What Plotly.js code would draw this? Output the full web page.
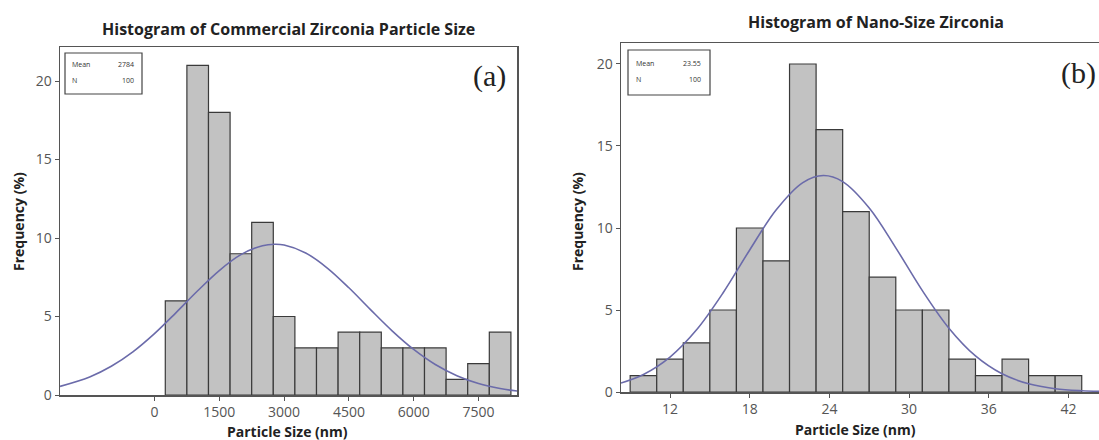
<!DOCTYPE html>
<html>
<head>
<meta charset="utf-8">
<script src="https://cdn.plot.ly/plotly-3.0.1.min.js"></script>
<style>html,body{margin:0;padding:0;background:#fff;}#chart{width:1099px;height:440px;}</style>
</head>
<body>
<div id="chart"></div>
<script>
// ---- Panel (a): commercial zirconia ----
const aBinCenters = [500, 1000, 1500, 2000, 2500, 3000, 3500, 4000, 4500, 5000, 5500, 6000, 6500, 7000, 7500, 8000];
const aCounts = [6, 21, 18, 9, 11, 5, 3, 3, 4, 4, 3, 3, 3, 1, 2, 4];
const aBinWidth = 500;
const aFitX = [-2187, -1500, -1000, -500, 0, 500, 1000, 1500, 2000, 2500, 2784, 3000, 3500, 4000, 4500, 5000, 5500, 6000, 6500, 7000, 7500, 8000, 8391];
const aFitY = [0.55, 1.15, 1.83, 2.75, 3.91, 5.25, 6.64, 7.93, 8.94, 9.51, 9.60, 9.55, 9.05, 8.09, 6.83, 5.44, 4.09, 2.90, 1.94, 1.23, 0.73, 0.41, 0.25];
const aTicks = [0, 1500, 3000, 4500, 6000, 7500];
const aMean = "2784", aN = "100";

// ---- Panel (b): nano-size zirconia ----
const bBinCenters = [10, 12, 14, 16, 18, 20, 22, 24, 26, 28, 30, 32, 34, 36, 38, 40, 42];
const bCounts = [1, 2, 3, 5, 10, 8, 20, 16, 11, 7, 5, 5, 2, 1, 2, 1, 1];
const bBinWidth = 2;
const bFitX = [8.31, 10, 12, 14, 16, 18, 20, 22, 23.55, 25, 27, 29, 31, 33, 35, 37, 39, 41, 43, 44.3];
const bFitY = [0.55, 1.07, 2.13, 3.79, 6.05, 8.66, 11.11, 12.77, 13.2, 12.83, 11.22, 8.79, 6.18, 3.89, 2.20, 1.11, 0.50, 0.20, 0.075, 0.04];
const bTicks = [12, 18, 24, 30, 36, 42];
const bMean = "23.55", bN = "100";

const yTicks = [0, 5, 10, 15, 20];

const W = 1099, H = 440;
const px = v => v / W, py = v => 1 - v / H;

const barStyle = {color: '#c2c2c2', line: {color: '#3a3a3a', width: 1.2}};
const fitStyle = {color: '#6b6baa', width: 1.6, shape: 'spline'};

const traces = [
  {type: 'bar', x: aBinCenters, y: aCounts, width: aBinWidth, marker: barStyle, xaxis: 'x', yaxis: 'y', hoverinfo: 'x+y'},
  {type: 'scatter', mode: 'lines', x: aFitX, y: aFitY, line: fitStyle, xaxis: 'x', yaxis: 'y'},
  {type: 'bar', x: bBinCenters, y: bCounts, width: bBinWidth, marker: barStyle, xaxis: 'x2', yaxis: 'y2', hoverinfo: 'x+y'},
  {type: 'scatter', mode: 'lines', x: bFitX, y: bFitY, line: fitStyle, xaxis: 'x2', yaxis: 'y2'}
];

const tickFont = {family: 'Open Sans, sans-serif', size: 14, color: '#555'};
const axBase = {
  showgrid: false, zeroline: false, showline: true, linecolor: '#555', linewidth: 1.5,
  ticks: 'outside', ticklen: 4, tickcolor: '#555', tickwidth: 1, tickfont: tickFont, fixedrange: true
};

const titleFont = {family: 'Open Sans, sans-serif', size: 16, color: '#222', weight: 'bold'};
const axTitleFont = {family: 'Open Sans, sans-serif', size: 14, color: '#222', weight: 'bold'};
const smallFont = {family: 'Open Sans, sans-serif', size: 7, color: '#333'};
const labelFont = {family: 'Liberation Serif, DejaVu Serif, serif', size: 30, color: '#222'};

const layout = {
  width: W, height: H,
  margin: {l: 0, r: 0, t: 0, b: 0},
  paper_bgcolor: '#fff', plot_bgcolor: '#fff',
  showlegend: false, bargap: 0,
  xaxis: Object.assign({}, axBase, {domain: [px(60), px(517)], range: [-2187, 8391], tickvals: aTicks, ticktext: aTicks.map(String), mirror: true, anchor: 'y'}),
  yaxis: Object.assign({}, axBase, {domain: [py(395), py(47)], range: [0, 22.17], tickvals: yTicks, mirror: true, anchor: 'x'}),
  xaxis2: Object.assign({}, axBase, {domain: [px(621), 1], range: [8.31, 44.3], tickvals: bTicks, mirror: true, anchor: 'y2'}),
  yaxis2: Object.assign({}, axBase, {domain: [py(392), py(43)], range: [0, 21.28], tickvals: yTicks, mirror: false, anchor: 'x2'}),
  shapes: [
    {type: 'rect', xref: 'paper', yref: 'paper', x0: px(65), x1: px(142), y0: py(94), y1: py(53), line: {color: '#444', width: 1.2}, fillcolor: 'rgba(0,0,0,0)'},
    {type: 'rect', xref: 'paper', yref: 'paper', x0: px(628), x1: px(710), y0: py(95), y1: py(50), line: {color: '#444', width: 1.2}, fillcolor: 'rgba(0,0,0,0)'}
  ],
  annotations: [
    {text: 'Histogram of Commercial Zirconia Particle Size', xref: 'paper', yref: 'paper', x: px(288), y: py(29), showarrow: false, font: titleFont, xanchor: 'center', yanchor: 'middle'},
    {text: 'Histogram of Nano-Size Zirconia', xref: 'paper', yref: 'paper', x: px(876), y: py(22), showarrow: false, font: titleFont, xanchor: 'center', yanchor: 'middle'},
    {text: 'Particle Size (nm)', xref: 'paper', yref: 'paper', x: px(287), y: py(431), showarrow: false, font: axTitleFont, xanchor: 'center', yanchor: 'middle'},
    {text: 'Particle Size (nm)', xref: 'paper', yref: 'paper', x: px(855), y: py(429), showarrow: false, font: axTitleFont, xanchor: 'center', yanchor: 'middle'},
    {text: 'Frequency (%)', xref: 'paper', yref: 'paper', x: px(18), y: py(222), showarrow: false, font: axTitleFont, textangle: -90, xanchor: 'center', yanchor: 'middle'},
    {text: 'Frequency (%)', xref: 'paper', yref: 'paper', x: px(577), y: py(222), showarrow: false, font: axTitleFont, textangle: -90, xanchor: 'center', yanchor: 'middle'},
    {text: 'Mean', xref: 'paper', yref: 'paper', x: px(70), y: py(65), showarrow: false, font: smallFont, xanchor: 'left', yanchor: 'middle'},
    {text: aMean, xref: 'paper', yref: 'paper', x: px(136), y: py(65), showarrow: false, font: smallFont, xanchor: 'right', yanchor: 'middle'},
    {text: 'N', xref: 'paper', yref: 'paper', x: px(70), y: py(80), showarrow: false, font: smallFont, xanchor: 'left', yanchor: 'middle'},
    {text: aN, xref: 'paper', yref: 'paper', x: px(136), y: py(80), showarrow: false, font: smallFont, xanchor: 'right', yanchor: 'middle'},
    {text: 'Mean', xref: 'paper', yref: 'paper', x: px(634), y: py(63), showarrow: false, font: smallFont, xanchor: 'left', yanchor: 'middle'},
    {text: bMean, xref: 'paper', yref: 'paper', x: px(703), y: py(63), showarrow: false, font: smallFont, xanchor: 'right', yanchor: 'middle'},
    {text: 'N', xref: 'paper', yref: 'paper', x: px(634), y: py(79), showarrow: false, font: smallFont, xanchor: 'left', yanchor: 'middle'},
    {text: bN, xref: 'paper', yref: 'paper', x: px(703), y: py(79), showarrow: false, font: smallFont, xanchor: 'right', yanchor: 'middle'},
    {text: '(a)', xref: 'paper', yref: 'paper', x: px(508), y: py(76), showarrow: false, font: labelFont, xanchor: 'right', yanchor: 'middle'},
    {text: '(b)', xref: 'paper', yref: 'paper', x: px(1098), y: py(73), showarrow: false, font: labelFont, xanchor: 'right', yanchor: 'middle'}
  ]
};

Plotly.newPlot('chart', traces, layout, {displayModeBar: false, staticPlot: true});
</script>
</body>
</html>
